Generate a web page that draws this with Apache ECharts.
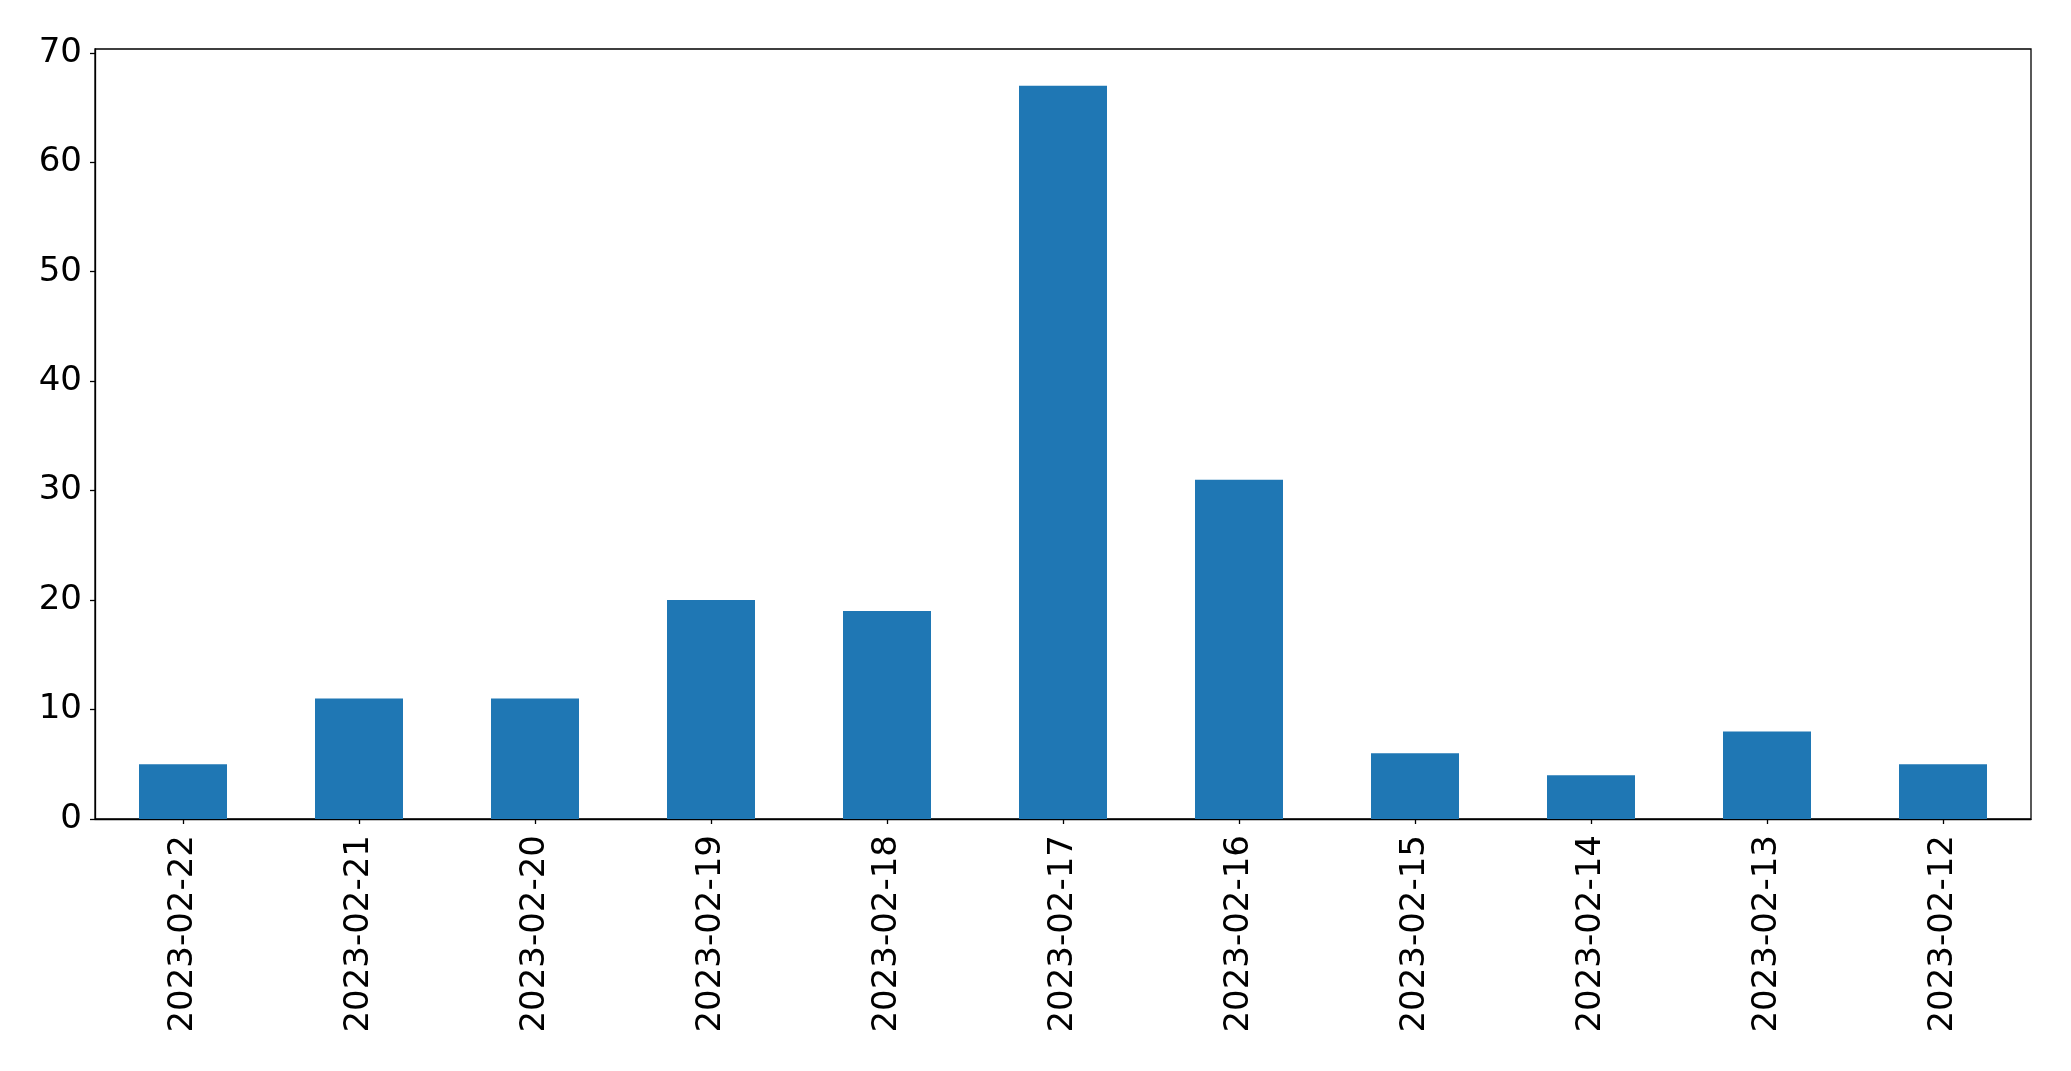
<!DOCTYPE html>
<html>
<head>
<meta charset="utf-8">
<script src="https://cdn.jsdelivr.net/npm/echarts@6/dist/echarts.min.js"></script>
<style>
html,body{margin:0;padding:0;background:#fff;}
#chart{width:2071px;height:1071px;}
</style>
</head>
<body>
<div id="chart"></div>
<script>
const categories = ["2023-02-22","2023-02-21","2023-02-20","2023-02-19","2023-02-18","2023-02-17","2023-02-16","2023-02-15","2023-02-14","2023-02-13","2023-02-12"];
const values = [5, 11, 11, 20, 19, 67, 31, 6, 4, 8, 5];
const yMax = 70.35;

const chart = echarts.init(document.getElementById('chart'), null, {renderer: 'canvas'});
const font = 'DejaVu Sans';
chart.setOption({
  animation: false,
  backgroundColor: '#ffffff',
  grid: {left: 95, top: 49, width: 1936, height: 770, show: true, borderColor: '#000', borderWidth: 1.3, backgroundColor: 'transparent'},
  xAxis: {
    type: 'category',
    data: categories,
    boundaryGap: true,
    axisLine: {show: true, lineStyle: {color: '#000', width: 1.3}},
    axisTick: {show: true, alignWithLabel: true, length: 5, lineStyle: {color: '#000', width: 1.3}},
    axisLabel: {rotate: 90, margin: 16, fontFamily: font, fontSize: 34, color: '#000', interval: 0},
    splitLine: {show: false}
  },
  yAxis: {
    type: 'value',
    min: 0,
    max: yMax,
    interval: 10,
    axisLine: {show: true, lineStyle: {color: '#000', width: 1.3}},
    axisTick: {show: true, length: 5, lineStyle: {color: '#000', width: 1.3}},
    axisLabel: {margin: 13, fontFamily: font, fontSize: 34, color: '#000', showMaxLabel: false,
      lineHeight: 34, padding: [10, 0, 0, 0],
      formatter: function(v){ return (Math.abs(v - Math.round(v)) < 1e-6 && v % 10 === 0) ? String(v) : ''; }},
    splitLine: {show: false}
  },
  series: [{
    type: 'bar',
    data: values,
    barWidth: '50%',
    itemStyle: {color: '#1f77b4'}
  }]
});
</script>
</body>
</html>
